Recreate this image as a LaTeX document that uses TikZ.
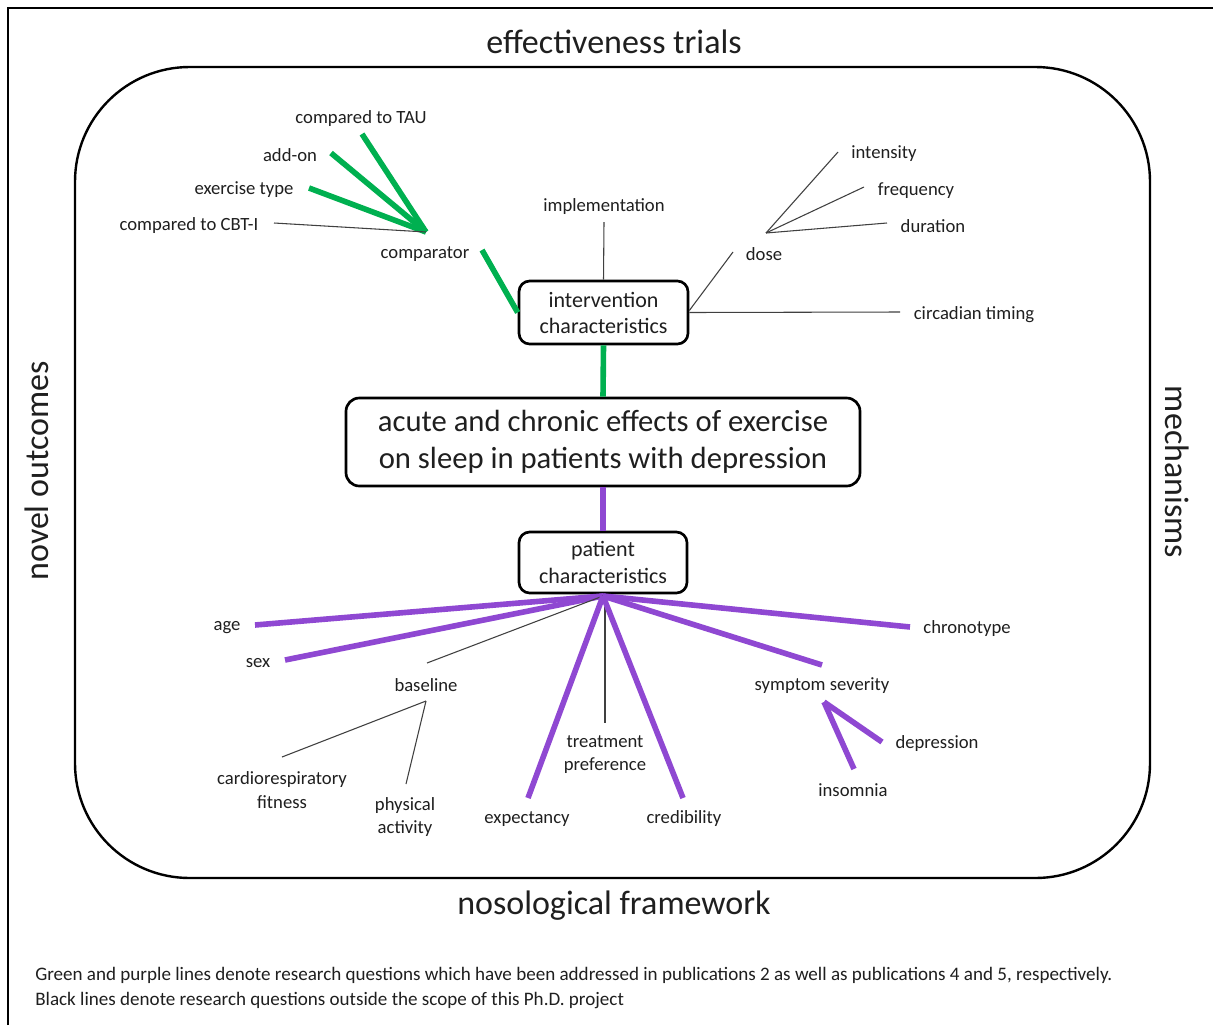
\documentclass[tikz,border=0pt]{standalone}
\usepackage{fontspec}
\setmainfont{Carlito}
\definecolor{rqgreen}{RGB}{0,176,80}
\definecolor{rqpurple}{RGB}{143,72,210}
\begin{document}
\begin{tikzpicture}[x=0.75pt,y=-0.75pt,
  every node/.style={text=black!88},
  lbl/.style={font=\fontsize{14}{18}\selectfont, inner sep=0pt, align=center, yshift=-1.5pt},
  box/.style={draw=black, line width=2pt, rounded corners=8pt, align=center,
    font=\fontsize{16.5}{19.5}\selectfont, minimum width=126.75pt,
    minimum height=47.25pt, inner sep=0pt},
  side/.style={font=\fontsize{25.5}{30}\selectfont, inner sep=0pt},
  thinline/.style={draw=black!75, line width=0.8pt},
  grn/.style={draw=rqgreen, line width=4.2pt},
  prp/.style={draw=rqpurple, line width=4.2pt}]

% page and frame
\path[use as bounding box, fill=white] (0,0) rectangle (1213,1025);
\draw[line width=2.2pt] (8,1025) -- (8,8) -- (1213,8);

% surrounding themes
\node[side] (top) at (614,42) {effectiveness trials};
\node[side] (bottom) at (614,906) {nosological framework};
\node[side, rotate=90] (left) at (37,471) {novel outcomes};
\node[side, rotate=-90] (right) at (1177,472) {mechanisms};
\draw[line width=1.8pt, rounded corners=86pt] (75,67) rectangle (1150,878);

% central boxes
\node[box] (iv) at (603.5,312.5) {intervention\\characteristics};
\node[box, rounded corners=10pt, minimum width=385.5pt, minimum height=66pt,
  font=\fontsize{23}{27.75}\selectfont] (core) at (603,442)
  {\raisebox{-2pt}{acute and chronic effects of exercise}\\\raisebox{-2pt}{on sleep in patients with depression}};
\node[box, minimum width=126pt, minimum height=45.75pt,
  font=\fontsize{16.5}{20}\selectfont] (pt) at (603,562.5) {patient\\characteristics};

\draw[grn] (iv.south) -- (core.north);
\draw[prp] (core.south) -- (pt.north);

% intervention branch labels
\node[lbl] (tau) at (361,117) {compared to TAU};
\node[lbl] (addon) at (290,153) {add-on};
\node[lbl] (extype) at (244,188) {exercise type};
\node[lbl] (cbt) at (189,224) {compared to CBT-I};
\node[lbl] (comp) at (425,252) {comparator};
\node[lbl] (impl) at (604,205) {implementation};
\node[lbl] (dose) at (764,252) {dose};
\node[lbl] (inten) at (884,152) {intensity};
\node[lbl] (freq) at (916,189) {frequency};
\node[lbl] (dur) at (933,224) {duration};
\node[lbl] (circ) at (974,313) {circadian timing};

\coordinate (chub) at (426,232);
\coordinate (tau-e) at (362,134);
\coordinate (addon-e) at (331,153);
\coordinate (extype-e) at (309,188);
\coordinate (cbt-e) at (274,223);
\coordinate (comp-e) at (482,250);
\coordinate (impl-e) at (604,222);
\coordinate (dose-e) at (733,252);
\coordinate (dhub) at (766,233);
\coordinate (inten-e) at (838,152);
\coordinate (freq-e) at (864,187);
\coordinate (dur-e) at (887,223);
\coordinate (circ-e) at (900,312);

\draw[grn] (comp-e) -- (iv.west);
\draw[grn] (chub) -- (tau-e);
\draw[grn] (chub) -- (addon-e);
\draw[grn] (chub) -- (extype-e);
\draw[thinline] (chub) -- (cbt-e);
\draw[thinline] (iv.north) -- (impl-e);
\draw[thinline] ([yshift=1.5pt]iv.east) -- (dose-e);
\draw[thinline] (dhub) -- (inten-e);
\draw[thinline] (dhub) -- (freq-e);
\draw[thinline] (dhub) -- (dur-e);
\draw[thinline] (iv.east) -- (circ-e);

% patient branch labels
\node[lbl] (age) at (227,626) {age};
\node[lbl] (sex) at (258,661) {sex};
\node[lbl] (base) at (426,683) {baseline};
\node[lbl, font=\fontsize{14}{18}\selectfont] (cardio) at (282,788) {cardiorespiratory\\fitness};
\node[lbl, font=\fontsize{14}{17.5}\selectfont] (phys) at (405,815) {physical\\activity};
\node[lbl] (expect) at (527,817) {expectancy};
\node[lbl, font=\fontsize{14}{17.25}\selectfont] (treat) at (605,753) {treatment\\preference};
\node[lbl] (cred) at (684,817) {credibility};
\node[lbl] (symp) at (822,684) {symptom severity};
\node[lbl] (chrono) at (967,627) {chronotype};
\node[lbl] (depr) at (937,742) {depression};
\node[lbl] (insom) at (853,788) {insomnia};

\coordinate (phub) at (603,596);
\coordinate (age-e) at (255,625);
\coordinate (sex-e) at (285,660);
\coordinate (base-e) at (427,663);
\coordinate (bhub) at (426,701);
\coordinate (cardio-e) at (282,757);
\coordinate (phys-e) at (406,784);
\coordinate (expect-e) at (528,798);
\coordinate (treat-e) at (605,723);
\coordinate (cred-e) at (683,798);
\coordinate (symp-e) at (822,665);
\coordinate (chrono-e) at (910,627);
\coordinate (shub) at (824,702);
\coordinate (depr-e) at (882,742);
\coordinate (insom-e) at (854,769);

\draw[prp] (phub) -- (age-e);
\draw[prp] (phub) -- (sex-e);
\draw[thinline] (phub) -- (base-e);
\draw[thinline] (bhub) -- (cardio-e);
\draw[thinline] (bhub) -- (phys-e);
\draw[prp] (phub) -- (expect-e);
\draw[thinline] (605,596) -- (treat-e);
\draw[prp] (phub) -- (cred-e);
\draw[prp] (phub) -- (symp-e);
\draw[prp] (phub) -- (chrono-e);
\draw[prp] (shub) -- (depr-e);
\draw[prp] (shub) -- (insom-e);

% legend
\node[lbl, anchor=west, align=left, font=\fontsize{14.3}{18.75}\selectfont] (note) at (35,986)
  {Green and purple lines denote research questions which have been addressed in publications 2 as well as publications 4 and 5, respectively.\\
   Black lines denote research questions outside the scope of this Ph.D. project};
\end{tikzpicture}
\end{document}
